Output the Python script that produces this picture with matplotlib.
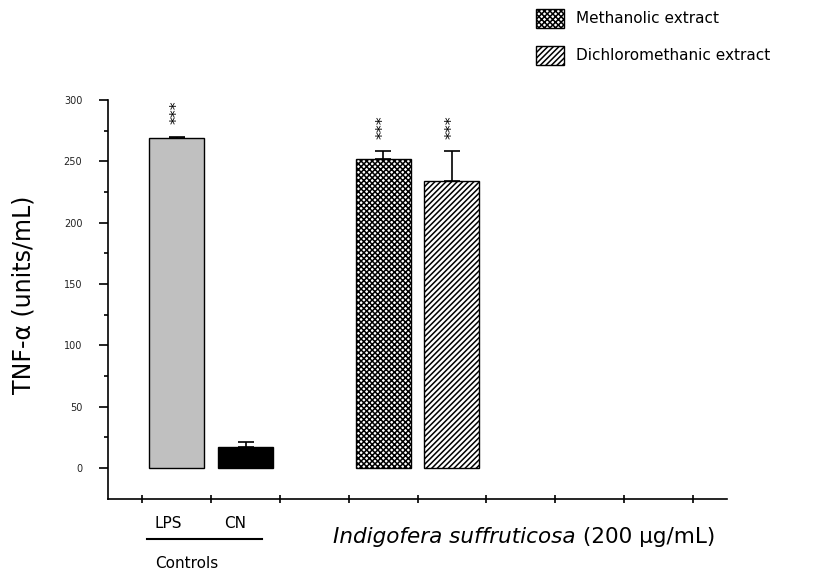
import matplotlib
matplotlib.use("Agg")
import matplotlib.pyplot as plt
from matplotlib.lines import Line2D
from matplotlib.ticker import FixedLocator

# values
groups = ["LPS", "CN", "Methanolic extract", "Dichloromethanic extract"]
positions = [1, 2, 4, 5]
tnf_values = [269, 17, 252, 234]
tnf_errors = [1, 4, 6, 24]
significance = ["***", "", "***", "***"]

y_major = [0, 50, 100, 150, 200, 250, 300]
y_minor = [25, 75, 125, 175, 225, 275]
x_ticks = [0.5, 1.5, 2.5, 3.5, 4.5, 5.5, 6.5, 7.5, 8.5]

W, H = 817, 573


def fx(px):
	return px / W


def fy(py):
	return 1 - py / H


plt.rcParams["font.family"] = ["DejaVu Sans"]
plt.rcParams["hatch.linewidth"] = 1.1

fig = plt.figure(figsize=(W / 100, H / 100), dpi=100)
ax = fig.add_axes([fx(108), fy(498.5), fx(727) - fx(108), fy(100) - fy(498.5)])

face = ["#c0c0c0", "black", "white", "white"]
hatches = [None, None, "xxxxxx", "//////"]
bars = []
for x, v, fc, h in zip(positions, tnf_values, face, hatches):
	b = ax.bar(x, v, width=0.8, color=fc, edgecolor="black", linewidth=1.0, hatch=h, zorder=2)
	bars.append(b)

ax.errorbar(positions, tnf_values, yerr=[[0] * len(tnf_errors), tnf_errors], fmt="none",
			ecolor="black", elinewidth=1.2, capsize=6, capthick=1.2, zorder=3)

for x, v, e, s in zip(positions, tnf_values, tnf_errors, significance):
	if s:
		ax.text(x, v + e + 20, s, rotation=90, ha="center", va="center", fontsize=11.5)

ax.set_xlim(0, 9)
ax.set_ylim(-25, 300)
ax.spines["top"].set_visible(False)
ax.spines["right"].set_visible(False)
ax.spines["left"].set_linewidth(1.2)
ax.spines["bottom"].set_linewidth(1.2)

ax.yaxis.set_major_locator(FixedLocator(y_major))
ax.yaxis.set_minor_locator(FixedLocator(y_minor))
ax.tick_params(axis="y", which="major", length=6.5, width=1.2, pad=12, labelsize=7, labelcolor="#222222")
ax.tick_params(axis="y", which="minor", length=3, width=1.2)
ax.set_xticks(x_ticks)
ax.set_xticklabels([])
ax.tick_params(axis="x", which="major", direction="inout", length=6, width=1.2)

fig.text(fx(24), fy(295), "TNF-\u03b1 (units/mL)", rotation=90, ha="center", va="center", fontsize=17)

# group labels under the axis
fig.text(fx(155), fy(523), "LPS", ha="left", va="center", fontsize=11)
fig.text(fx(224), fy(523), "CN", ha="left", va="center", fontsize=11)
fig.add_artist(Line2D([fx(147), fx(262)], [fy(539), fy(539)], color="black", linewidth=1.5))
fig.text(fx(155), fy(563), "Controls", ha="left", va="center", fontsize=11)

species = fig.text(fx(333), fy(537), "Indigofera suffruticosa", ha="left", va="center",
				   fontsize=15.5, style="italic")
fig.canvas.draw()
bb = species.get_window_extent(fig.canvas.get_renderer())
fig.text(bb.x1 / W, fy(537), " (200 \u03bcg/mL)", ha="left", va="center", fontsize=15.5)

fig.legend([bars[2], bars[3]], [groups[2], groups[3]], loc="upper left",
		   bbox_to_anchor=(fx(536), fy(9)), frameon=False, fontsize=11,
		   handlelength=1.8, handleheight=1.5, handletextpad=0.8, labelspacing=1.2,
		   borderpad=0, borderaxespad=0)

fig.savefig("out.png", dpi=100)
plt.close(fig)
